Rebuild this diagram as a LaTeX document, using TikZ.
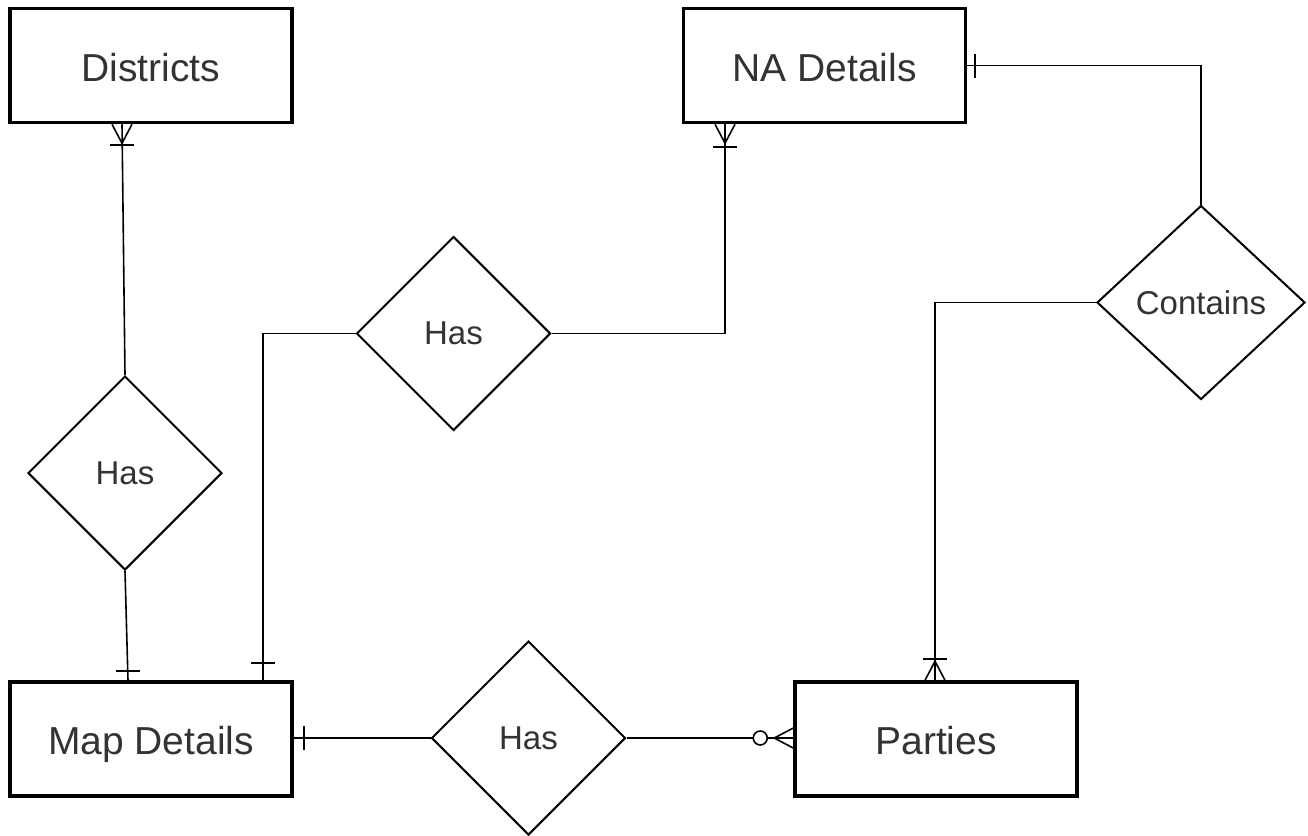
\documentclass[tikz,border=0pt]{standalone}
\usepackage{fontspec}
\setmainfont{Liberation Sans}
\usetikzlibrary{shapes.geometric,calc}
\begin{document}
\begin{tikzpicture}[x=1pt,y=-1pt,
  entity/.style={draw=black,line width=3.5pt,fill=white,rectangle,
    minimum width=282,minimum height=114,inner sep=0pt,
    text height=31pt,text depth=0pt,
    font=\fontsize{39}{43}\selectfont,text=black!80},
  relation/.style={draw=black,line width=2pt,fill=white,diamond,
    minimum width=194,minimum height=194,inner sep=0pt,
    font=\fontsize{33}{37}\selectfont,text=black!80},
  link/.style={draw=black,line width=1.6pt},
  endmark/.style={draw=black,line width=1.6pt}]
\useasboundingbox (0,0) rectangle (1308,835);

% entities
\node[entity] (districts) at (151,65.5) {Districts};
\node[entity] (na) at (824.5,65.5) {NA Details};
\node[entity] (map) at (151,739) {Map Details};
\node[entity] (parties) at (936,739) {Parties};

% relationships
\node[relation] (hasA) at (125,473) {Has};
\node[relation] (hasB) at (453.5,333.5) {Has};
\node[relation,minimum width=208] (contains) at (1201,302.5) {Contains};
\node[relation] (hasC) at (528.5,738) {Has};

% connector end points on the entities
\coordinate (dS) at ([xshift=-29]districts.south);
\coordinate (mN1) at ([xshift=-23]map.north);
\coordinate (mN2) at ([xshift=112]map.north);
\coordinate (nS) at ([xshift=-99.5]na.south);
\coordinate (pN) at ([xshift=-1]parties.north);

% connectors
\draw[link] (dS) -- (hasA.north);
\draw[link] (hasA.south) -- (mN1);
\draw[link] (hasB.west) -| (mN2);
\draw[link] (hasB.east) -| (nS);
\draw[link] (contains.north) |- (na.east);
\draw[link] (contains.west) -| (pN);
\draw[link] (hasC.west) -- (map.east |- hasC.west);
\draw[link] (hasC.east) -- (parties.west |- hasC.east);

% one-or-many at Districts
\draw[endmark] ($(dS)+(-12,21)$) -- ++(24,0);
\draw[endmark] ($(dS)+(-10,0)$) -- ($(dS)+(0,19)$) -- ($(dS)+(10,0)$);
% one-or-many at NA Details
\draw[endmark] ($(nS)+(-12,23)$) -- ++(24,0);
\draw[endmark] ($(nS)+(-10,0)$) -- ($(nS)+(0,19)$) -- ($(nS)+(10,0)$);
% one-or-many at Parties
\draw[endmark] ($(pN)+(-12,-21)$) -- ++(24,0);
\draw[endmark] ($(pN)+(-10,0)$) -- ($(pN)+(0,-19)$) -- ($(pN)+(10,0)$);
% one at NA Details (right)
\draw[endmark] ($(na.east)+(8,-12)$) -- ++(0,24);
% one at Map Details (top)
\draw[endmark] ($(mN1)+(-12,-9)$) -- ++(24,0);
\draw[endmark] ($(mN2)+(-12,-17)$) -- ++(24,0);
% one at Map Details (right)
\coordinate (mE) at (map.east |- hasC.west);
\draw[endmark] ($(mE)+(10,-12)$) -- ++(0,24);
% zero-or-many at Parties (left)
\coordinate (pW) at (parties.west |- hasC.east);
\draw[endmark] ($(pW)+(0,-10)$) -- ($(pW)+(-19,0)$) -- ($(pW)+(0,10)$);
\draw[endmark,fill=white] ($(pW)+(-33,0)$) circle (7);
\end{tikzpicture}
\end{document}
